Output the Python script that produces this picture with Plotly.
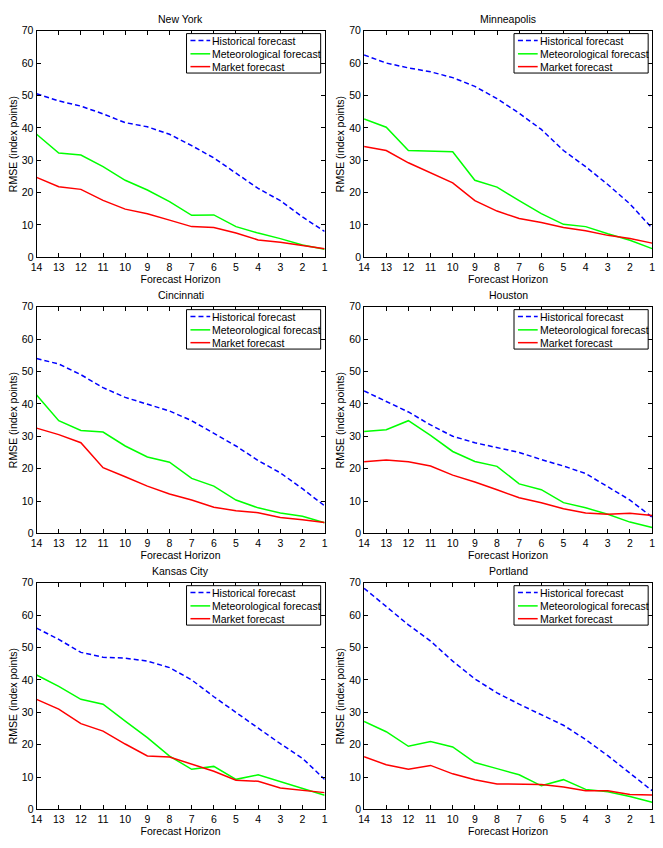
import plotly.graph_objects as go

horizon = [14, 13, 12, 11, 10, 9, 8, 7, 6, 5, 4, 3, 2, 1]
tick_labels = [str(h) for h in horizon]
y_ticks = [0, 10, 20, 30, 40, 50, 60, 70]

cities = ["New York", "Minneapolis", "Cincinnati", "Houston", "Kansas City", "Portland"]
series_names = ["Historical forecast", "Meteorological forecast", "Market forecast"]

ny_hist = [50.5, 48.3, 46.7, 44.3, 41.6, 40.3, 38.0, 34.5, 30.7, 26.0, 21.3, 17.5, 12.5, 8.0]
ny_met = [38.0, 32.2, 31.6, 28.0, 23.8, 20.8, 17.2, 13.0, 13.1, 9.5, 7.5, 5.8, 3.8, 2.5]
ny_mkt = [24.7, 21.8, 21.0, 17.6, 14.9, 13.5, 11.5, 9.5, 9.2, 7.5, 5.4, 4.7, 3.7, 2.7]

mn_hist = [62.5, 60.0, 58.5, 57.3, 55.5, 52.8, 49.0, 44.5, 39.5, 33.0, 28.0, 22.5, 16.5, 9.0]
mn_met = [42.7, 40.2, 33.0, 32.7, 32.6, 23.8, 21.7, 17.5, 13.5, 10.2, 9.5, 7.3, 5.3, 2.7]
mn_mkt = [34.2, 33.0, 29.2, 26.0, 23.0, 17.5, 14.3, 12.0, 10.8, 9.2, 8.2, 6.8, 5.8, 4.4]

ci_hist = [54.0, 52.3, 49.0, 45.0, 42.0, 40.0, 37.8, 34.8, 31.0, 27.0, 22.5, 18.7, 13.8, 8.5]
ci_met = [42.7, 34.8, 31.8, 31.3, 27.0, 23.6, 22.0, 17.0, 14.6, 10.3, 7.9, 6.3, 5.3, 3.3]
ci_mkt = [32.5, 30.5, 28.0, 20.3, 17.5, 14.6, 12.2, 10.3, 8.1, 7.0, 6.4, 4.9, 4.2, 3.4]

ho_hist = [44.0, 40.8, 37.5, 33.5, 30.0, 28.0, 26.5, 25.0, 22.8, 20.8, 18.5, 14.5, 10.3, 5.0]
ho_met = [31.5, 32.0, 34.8, 30.3, 25.3, 22.2, 20.7, 15.3, 13.5, 9.5, 7.9, 5.9, 3.5, 1.8]
ho_mkt = [22.1, 22.7, 22.1, 20.8, 18.0, 15.9, 13.5, 11.0, 9.5, 7.6, 6.3, 5.9, 6.2, 5.5]

kc_hist = [56.0, 52.5, 48.5, 47.0, 46.7, 45.8, 43.8, 40.0, 34.8, 30.0, 25.0, 20.3, 15.8, 9.3]
kc_met = [41.5, 38.0, 34.0, 32.5, 27.3, 22.2, 16.5, 12.4, 13.3, 9.3, 10.7, 8.6, 6.5, 4.4]
kc_mkt = [34.0, 31.0, 26.5, 24.2, 20.2, 16.5, 16.2, 14.0, 11.8, 9.0, 8.7, 6.6, 5.8, 5.2]

po_hist = [68.3, 62.5, 57.0, 52.0, 45.8, 40.3, 36.0, 32.5, 29.2, 26.0, 21.6, 16.6, 11.2, 5.8]
po_met = [27.2, 24.0, 19.5, 21.0, 19.3, 14.5, 12.6, 10.7, 7.3, 9.2, 6.2, 5.5, 4.0, 2.2]
po_mkt = [16.3, 13.8, 12.4, 13.6, 11.0, 9.2, 7.9, 7.9, 7.7, 6.9, 5.8, 5.8, 4.6, 4.5]

city_series = [
    (ny_hist, ny_met, ny_mkt),
    (mn_hist, mn_met, mn_mkt),
    (ci_hist, ci_met, ci_mkt),
    (ho_hist, ho_met, ho_mkt),
    (kc_hist, kc_met, kc_mkt),
    (po_hist, po_met, po_mkt),
]

W, H = 663, 848
FONT = "Liberation Sans, Arial, Helvetica, sans-serif"
FS = 10.5
colors = ["#0000ff", "#00ff00", "#ff0000"]
dashes = ["5px,3px", "solid", "solid"]

# plot area pixel boxes
cols_px = [(31, 323), (363, 655)]
rows_px = [(25, 255), (305, 535), (585, 815)]

fig = go.Figure()
shapes = []
annotations = []
layout_axes = {}

for i, city in enumerate(cities):
    r, c = divmod(i, 2)
    x0, x1 = cols_px[c]
    yt, yb = rows_px[r]
    n = "" if i == 0 else str(i + 1)
    xa, ya = "xaxis" + n, "yaxis" + n
    xr, yr = "x" + n, "y" + n
    for k in range(3):
        fig.add_trace(go.Scatter(
            x=horizon, y=city_series[i][k], mode="lines", name=series_names[k],
            line=dict(color=colors[k], width=1.5, dash=dashes[k]),
            xaxis=xr, yaxis=yr, showlegend=False, hoverinfo="skip",
        ))
    common = dict(
        showline=True, linecolor="black", linewidth=1, mirror="ticks",
        ticks="inside", ticklen=4, tickcolor="black", showgrid=False, zeroline=False,
        tickfont=dict(family=FONT, size=FS, color="black"),
    )
    layout_axes[xa] = dict(
        domain=[x0 / W, x1 / W], anchor=yr, range=[14, 1],
        tickvals=horizon, ticktext=tick_labels,
        title=dict(text="Forecast Horizon", font=dict(family=FONT, size=FS, color="black"), standoff=0),
        **common,
    )
    layout_axes[ya] = dict(
        domain=[1 - yb / H, 1 - yt / H], anchor=xr, range=[0, 70],
        tickvals=y_ticks,
        title=dict(text="RMSE (index points)", font=dict(family=FONT, size=FS, color="black"), standoff=2),
        **common,
    )
    annotations.append(dict(
        text=city, xref=xr + " domain", yref=yr + " domain", x=0.5, y=1,
        xanchor="center", yanchor="middle", yshift=12, showarrow=False,
        font=dict(family=FONT, size=FS, color="black"),
    ))
    # legend box (drawn in the axis' domain coordinates)
    pw, ph = x1 - x0, yb - yt
    shapes.append(dict(type="rect", xref=xr + " domain", yref=yr + " domain",
                       x0=152 / pw, x1=288 / pw, y0=1 - 43 / ph, y1=1 - 3 / ph,
                       fillcolor="white", line=dict(color="black", width=1)))
    row_y = [1 - 10 / ph, 1 - 23.5 / ph, 1 - 36.5 / ph]
    for k in range(3):
        shapes.append(dict(type="line", xref=xr + " domain", yref=yr + " domain",
                           x0=156 / pw, x1=176 / pw, y0=row_y[k], y1=row_y[k],
                           line=dict(color=colors[k], width=1.5, dash=dashes[k])))
        annotations.append(dict(
            text=series_names[k], xref=xr + " domain", yref=yr + " domain",
            x=176 / pw, y=row_y[k], xanchor="left", yanchor="middle", showarrow=False,
            font=dict(family=FONT, size=FS, color="black"),
        ))

fig.update_layout(
    width=W, height=H, margin=dict(l=0, r=0, t=0, b=0),
    paper_bgcolor="white", plot_bgcolor="white",
    font=dict(family=FONT, size=FS, color="black"),
    shapes=shapes, annotations=annotations, showlegend=False,
    **layout_axes,
)

fig.write_html(
    "out.html",
    config={"displayModeBar": False},
    post_script="document.body.style.margin='0';document.body.style.overflow='hidden';",
)
